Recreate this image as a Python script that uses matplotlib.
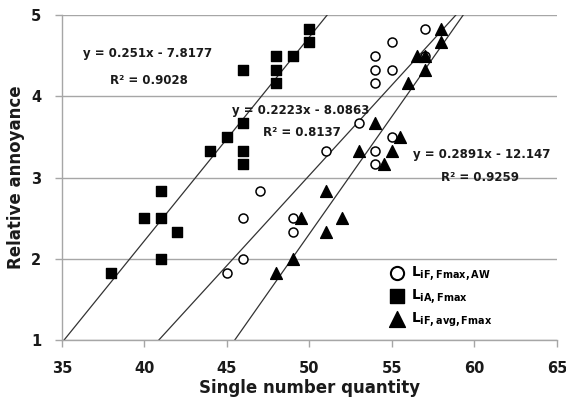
import matplotlib
matplotlib.use("Agg")
import matplotlib.pyplot as plt
import numpy as np

# L_iA,Fmax (squares)
sq_x = [38, 40, 41, 41, 41, 42, 44, 45, 46, 46, 46, 46, 48, 48, 48, 49, 50, 50]
sq_y = [1.83, 2.5, 2.5, 2.83, 2.0, 2.33, 3.33, 3.5, 3.67, 3.33, 3.17, 4.33,
        4.5, 4.33, 4.17, 4.5, 4.83, 4.67]

# L_iF,Fmax,AW (open circles)
ci_x = [45, 46, 46, 47, 49, 49, 51, 53, 54, 54, 54, 54, 54, 55, 55, 55, 57, 57]
ci_y = [1.83, 2.0, 2.5, 2.83, 2.5, 2.33, 3.33, 3.67, 4.5, 4.33, 4.17, 3.33,
        3.17, 4.67, 4.33, 3.5, 4.83, 4.5]

# L_iF,avg,Fmax (triangles)
tr_x = [48, 49, 49.5, 51, 51, 52, 53, 54, 54.5, 55, 55.5, 56, 56.5, 57, 57, 58, 58]
tr_y = [1.83, 2.0, 2.5, 2.83, 2.33, 2.5, 3.33, 3.67, 3.17, 3.33, 3.5, 4.17,
        4.5, 4.5, 4.33, 4.83, 4.67]

# regression lines (slope, intercept)
fits = [(0.251, -7.8177), (0.2223, -8.0863), (0.2891, -12.147)]
fit_text = [("y = 0.251x - 7.8177", "R² = 0.9028"),
            ("y = 0.2223x - 8.0863", "R² = 0.8137"),
            ("y = 0.2891x - 12.147", "R² = 0.9259")]

fig = plt.figure(figsize=(5.66, 3.99), dpi=100)
ax = fig.add_axes([0.1095, 0.148, 0.8745, 0.814])

gc = "#a6a6a6"
ax.set_xlim(35, 65)
ax.set_ylim(1, 5)
ax.set_yticks([1, 2, 3, 4, 5])
ax.set_xticks([35, 40, 45, 50, 55, 60, 65])
ax.yaxis.grid(True, color=gc, lw=1.0)
ax.set_axisbelow(True)
for s in ["top", "right"]:
    ax.spines[s].set_visible(False)
for s in ["left", "bottom"]:
    ax.spines[s].set_color(gc)
    ax.spines[s].set_linewidth(1.0)
ax.tick_params(axis="both", colors=gc, length=5, width=1.0, labelsize=10.5,
               labelcolor="#1a1a1a")
ax.tick_params(axis="x", pad=10)
ax.tick_params(axis="y", pad=10)
for lab in ax.get_xticklabels() + ax.get_yticklabels():
    lab.set_fontweight("bold")

for m, b in fits:
    yy = np.array([1.0, 5.0])
    xx = (yy - b) / m
    ax.plot(xx, yy, color="#333333", lw=0.9, zorder=2)

ax.scatter(ci_x, ci_y, s=42, marker="o", facecolor="white", edgecolor="black",
           linewidth=1.1, zorder=3)
ax.scatter(sq_x, sq_y, s=52, marker="s", color="black", zorder=3)
ax.scatter(tr_x, tr_y, s=72, marker="^", color="black", zorder=4)

tkw = dict(fontsize=8.5, fontweight="bold", color="#1a1a1a", va="center")
ax.text(36.3, 4.53, fit_text[0][0], **tkw)
ax.text(37.9, 4.2, fit_text[0][1], **tkw)
ax.text(45.3, 3.83, fit_text[1][0], **tkw)
ax.text(47.2, 3.55, fit_text[1][1], **tkw)
ax.text(56.3, 3.29, fit_text[2][0], **tkw)
ax.text(58.0, 3.0, fit_text[2][1], **tkw)

# legend
h1 = ax.scatter([], [], s=90, marker="o", facecolor="white", edgecolor="black", linewidth=1.5)
h2 = ax.scatter([], [], s=110, marker="s", color="black")
h3 = ax.scatter([], [], s=130, marker="^", color="black")
labels = [r"$\mathbf{L}_{\mathbf{iF,Fmax,AW}}$",
          r"$\mathbf{L}_{\mathbf{iA,Fmax}}$",
          r"$\mathbf{L}_{\mathbf{iF,avg,Fmax}}$"]
leg = ax.legend([h1, h2, h3], labels, loc="lower left", bbox_to_anchor=(0.626, 0.0),
                frameon=False, fontsize=10, handletextpad=0.0, labelspacing=0.3,
                borderaxespad=0.4)

ax.set_xlabel("Single number quantity", fontsize=12, fontweight="bold",
              color="#1a1a1a", labelpad=2)
ax.set_ylabel("Relative annoyance", fontsize=12, fontweight="bold",
              color="#1a1a1a", labelpad=4)

fig.savefig("out.png", dpi=100)
